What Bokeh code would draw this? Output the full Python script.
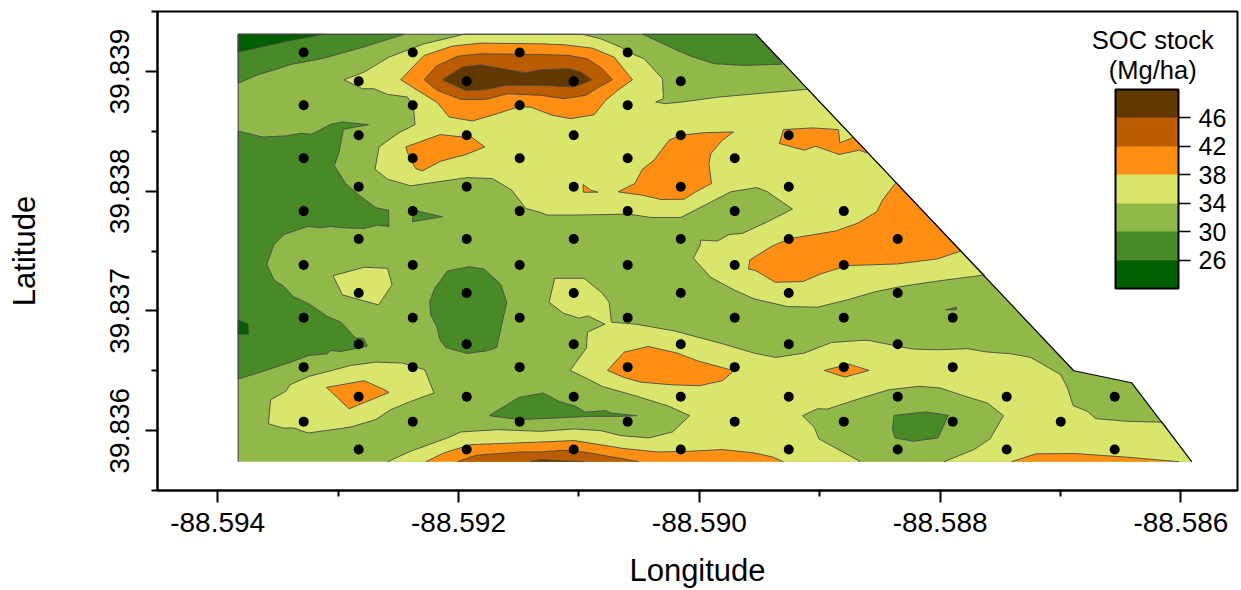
from bokeh.embed import file_html
from bokeh.resources import INLINE
from bokeh.plotting import figure
from bokeh.models import (ColorBar, LinearColorMapper, FixedTicker, Label, Range1d,
                          NumeralTickFormatter)

# ---- data: offsets in 1e-5 degree from the origin below (v grows southwards) ----
LON0 = -88.594
LAT0 = 39.839

level_colors = ["#005f00", "#488a25", "#90b94a", "#d9e66b", "#ff8f12", "#bc5c00", "#603800"]
legend_ticks = [26, 30, 34, 38, 42, 46]
x_ticks = [-88.594, -88.592, -88.590, -88.588, -88.586]
y_ticks = [39.836, 39.837, 39.838, 39.839]

domain = [(17,-31),(447,-31),(711,250),(759,260),(809,326),(17,326)]

# class 34-38
yellow_1 = [(105,7),(121.6,.6),(142.3,-11.9),(171.4,-23),(204.6,-31),(302.9,-31),(318.1,-27.2),(334.8,-20.2),(340.8,-16.1),(354.1,-10.5),(369.4,6.1),(370.2,22.8),(363.8,25.6),(372.1,27),(390.1,25),(416.4,21.4),(448.3,18.6),(489.8,15),(636.6,170),(595,175.5),(567.3,179.7),(546.6,183.9),(523,190.8),(498.1,196.9),(473.2,196.4),(445.5,190),(428.9,182.5),(409.5,172),(395.1,156.1),(400.7,145),(401.2,140.9),(415,141.7),(424.8,136.2),(435.8,135.3),(456.6,125.6),(477.4,115),(456.6,100.6),(447.7,97),(426.1,100.6),(384.6,122),(359.7,122),(341.7,119.2),(296,120),(273.8,120),(268.3,117.8),(255.9,114.5),(244.2,99.2),(228.2,89.5),(207.4,88.7),(182.5,92.3),(160.3,95.6),(141,90),(130.7,81.7),(134,63.1),(150.6,51.2),(163.9,44.5),(162.5,28.4),(157.6,21.4),(141,19.2),(129.9,14.5),(120.2,14.5)]
yellow_2 = [(279.9,172.8),(304.3,172.8),(319.5,185.3),(325.1,192.8),(327,209.4),(347.2,211.1),(379,216.7),(417.8,227),(445.5,235.3),(463.5,238.9),(487,235.3),(509.8,226.4),(534.1,224.7),(541,224.7),(577,231.9),(597.8,232.5),(622.7,231.6),(639.3,234.4),(658.7,235.8),(675.3,238.9),(700.2,253.3),(705.8,264.4),(710.5,279.1),(722.4,283.9),(729.3,290),(755.6,292.2),(784.7,293),(809,326),(140.9,326),(160.3,317.2),(190.8,306.1),(201.9,301.1),(232.3,299.2),(268.3,300.6),(296,298.6),(318.1,300),(334.8,304.2),(358.3,306.1),(377.7,301.1),(392.1,287.5),(374.9,279.7),(348.6,271.4),(319.5,263.1),(307.1,256.7),(292.7,249.7),(306.2,231.1),(307.1,217.8),(321.5,211.1),(307.6,204.2),(300.1,206.1),(287.1,201.9),(275.2,192.8)]
yellow_3 = [(95.8,170.6),(121.6,163.6),(141,164.4),(144.8,178.3),(133.5,195),(103.6,186.7)]
yellow_4 = [(60.1,261.7),(75.9,254.7),(110.5,245.6),(131.3,242.8),(153.4,243.6),(172,249.2),(179.7,268.6),(160.3,275.6),(143.7,282.5),(131.3,290.8),(110.5,297),(75,302),(63.4,297.8),(53.7,297.8),(42.1,294.2),(44,274.2),(56.5,267.2)]

# class 30-34 hole inside the lower yellow area
green_hole = [(485.7,287.5),(498.1,281.7),(506.4,282),(528.6,274.7),(557.6,265.8),(582.6,263),(600,264.4),(622.7,271.9),(639.3,276.9),(652.6,287.5),(641.5,306.9),(628.2,315.8),(603.3,326),(534.1,326),(499.5,307),(495.4,297.2)]

# class 26-30
dark_1 = [(17,-31),(155,-31),(120,-20),(88,-11),(62,-6),(33,3),(17,10)]
dark_2 = [(17,49.8),(37.1,54.8),(56.5,53.9),(69,51.7),(78.1,52.5),(93.9,44.2),(103.6,42.3),(125.2,44.5),(104.4,48.4),(100.8,67.3),(96.9,78.7),(106.3,93.7),(117.4,103.4),(131.3,113.9),(141.8,115.9),(142.3,129.5),(132.6,128.4),(121.6,131.2),(103.6,130.6),(93.9,129.5),(85.6,130.6),(74.5,129.5),(55.1,136.2),(46.8,144.5),(40.7,161.1),(46.8,174.2),(55.1,179.7),(62.9,188.1),(75.9,194.2),(91.1,204.7),(102.2,209.4),(114.6,222.8),(121,222.8),(124.3,229.5),(102.2,233.9),(93.9,233.1),(91.1,235.8),(75.9,237.2),(60.6,242.8),(39.9,249.7),(17,257)]
dark_3 = [(190.8,166.7),(208.8,163.1),(221.2,165),(235.1,177.8),(240.1,192.8),(235.9,211.7),(231.8,230.6),(224,233.3),(207.4,235.6),(189.4,230.6),(184.7,224.2),(181.9,213.1),(176.9,203.3),(176.1,192.2),(180.3,181.1)]
dark_4 = [(162.5,115.9),(186.6,121.4),(161.7,125.6)]
dark_5 = [(353,-31),(447,-31),(469,-6),(437.2,-5),(412.3,-6.4),(392.9,-12.7),(377.7,-19.4)]
dark_6 = [(225.4,287.5),(250.3,272.2),(270.5,268.6),(283.5,275.6),(297.4,279.7),(304.9,284.5),(322.3,283.3),(326.4,285.3),(348,287.5),(334.8,288.1),(309.8,288.1),(268.3,290),(250.3,290.8)]
dark_7 = [(561.8,287.2),(588.1,284.4),(606.9,287.2),(598.3,306.1),(577.6,308.9),(562.6,306.1),(560.4,299.1)]
dark_8 = [(604.7,199.1),(613.6,196.9),(613.6,199.1)]

# class 22-26
deep_1 = [(17,-31),(88,-31),(58,-25.2),(17,-16.1)]
deep_2 = [(17,207.8),(25.2,210.6),(25.5,219.5),(17,219.5)]

# class 38-42
orange_1 = [(152,7),(171.4,-13.3),(194.9,-21.1),(218.5,-23.6),(268.3,-23),(287.7,-22.2),(311.2,-19.4),(329.2,-11.9),(344.5,7),(332,15.9),(322.3,24.2),(312.6,36.2),(293.2,39.5),(278,36.7),(260,29.8),(248.9,29.8),(232.3,35.3),(211.6,41.4),(192.2,38.1),(182.5,26.1)]
orange_2 = [(156.2,63.1),(184.7,52.8),(203.2,54.8),(210.7,54.8),(221.8,63.1),(206,69.5),(185.3,75),(170,83.1),(164.5,81.2),(158.9,71.4)]
orange_3 = [(303.5,94.5),(309.8,99.2),(315.9,100.9),(303.7,100.9)]
orange_4 = [(332.5,100.6),(346.4,93.7),(352.8,81.7),(362.4,74.2),(374.9,57.5),(384.6,53.4),(404,51.2),(428.4,50.6),(419.2,57.5),(409.5,68.7),(408.1,77),(410.1,93.7),(397,100.6),(387.4,106.7),(368,107),(352.8,103.4)]
orange_5 = [(469.9,48.6),(494,47.2),(515.6,48.6),(516.7,59.7),(528,55.2),(540.5,68.5),(532.7,65.8),(516.1,69.4),(496.7,62.5),(487,65.8),(466.5,60.2)]
orange_6 = [(441.9,157.5),(460.7,145.8),(474.9,139.7),(513.3,133.3),(531.3,126.9),(547.4,117.2),(552.1,107.5),(563.2,93),(617.2,150),(597.8,156.6),(564.6,160.8),(523,162.2),(500.9,169.1),(486.2,175.5),(463,176.1),(446.9,166.4),(440.8,165)]
orange_7 = [(323.7,249.7),(337.5,234.5),(357.5,229.7),(381.8,235.3),(398.4,241.7),(428.9,250),(419.2,258.3),(399.8,262.5),(376.3,261.7),(351.4,259.5),(337.5,255.6)]
orange_8 = [(503.7,249.7),(524.4,244.5),(541,249.7),(520.8,255.3)]
orange_9 = [(90.3,263.9),(121.6,258.3),(136.8,265),(142.3,268.1),(109.1,281.7),(93.9,267.2)]
orange_10 = [(172.8,326),(188,318.6),(210.2,311.7),(268.3,309.5),(296,308.3),(337.5,315),(365.2,317.8),(392.9,317.2),(419.2,315.8),(445.5,318.6),(460.7,322),(469.9,326)]
orange_11 = [(659.3,326),(679.5,319.4),(711.3,319.1),(755.6,322.2),(798.5,326)]

# class 42-46
brown_1 = [(171.4,7),(181.6,-4.4),(199.1,-12.7),(218.5,-14.7),(268.3,-14.1),(291.9,-13.3),(307.1,-10.5),(319.5,-2.2),(327.9,7),(315.4,13.9),(305.7,20),(287.7,22.8),(268.3,20),(240.6,18.7),(222.6,23.4),(201.9,23.4),(182.5,15.9)]
brown_2 = [(199.1,326),(214.3,320.6),(251.7,317.8),(268.3,317.8),(286.3,316.4),(304.3,317.8),(350,326)]

# class 46-50
umber_1 = [(186.6,7),(203.2,-3.6),(218.5,-5.5),(240.6,-1.4),(255.9,1.1),(268.3,-1.3),(291.9,-2.2),(301.5,.6),(310.7,7),(296,13.1),(268.3,11.7),(239.2,11.7),(221.2,15.3),(206,15.9)]
umber_2 = [(259.5,326),(268.3,324.2),(304.3,326)]

# sampling points: one latitude offset per row, with the longitude offsets in that row
row_lat = [-15.8, 8.3, 28.3, 53.3, 72.5, 96.4, 116.7, 140, 161.7, 185, 205.8, 227.9, 247, 271.7, 292.5, 315.8]
row_lon = [
    [71.4, 162, 250.8, 340.5],
    [117.1, 206.8, 295.7, 384.6],
    [71.4, 162, 250.8, 340.5],
    [117.1, 206.8, 295.7, 384.6, 474.3],
    [71.4, 162, 250.8, 340.5, 429.4],
    [117.1, 206.8, 295.7, 384.6, 474.3],
    [71.4, 162, 250.8, 340.5, 429.4, 520],
    [117.1, 206.8, 295.7, 384.6, 474.3, 564.8],
    [71.4, 162, 250.8, 340.5, 429.4, 520],
    [117.1, 206.8, 295.7, 384.6, 474.3, 564.8],
    [71.4, 162, 250.8, 340.5, 429.4, 520, 610.5],
    [117.1, 206.8, 295.7, 384.6, 474.3, 564.8],
    [71.4, 162, 250.8, 340.5, 429.4, 520, 610.5],
    [117.1, 206.8, 295.7, 384.6, 474.3, 564.8, 655.3, 745],
    [71.4, 162, 250.8, 340.5, 429.4, 520, 610.5, 700.2],
    [117.1, 206.8, 295.7, 384.6, 474.3, 564.8, 655.3, 745],
]

# painting order: lower layers first, each with its class index in level_colors
layers = [
    (2, [domain]),
    (3, [yellow_1, yellow_2, yellow_3, yellow_4]),
    (2, [green_hole]),
    (1, [dark_1, dark_2, dark_3, dark_4, dark_5, dark_6, dark_7, dark_8]),
    (0, [deep_1, deep_2]),
    (4, [orange_1, orange_2, orange_3, orange_4, orange_5, orange_6, orange_7,
         orange_8, orange_9, orange_10, orange_11]),
    (5, [brown_1, brown_2]),
    (6, [umber_1, umber_2]),
]


def lon(u):
    return LON0 + u * 1e-5


def lat(v):
    return LAT0 - v * 1e-5


FONT = "Liberation Sans"
p = figure(width=1241, height=590, output_backend="svg", toolbar_location=None,
           x_range=Range1d(-88.5945, -88.58553), y_range=Range1d(39.8355, 39.8395),
           min_border_left=157, min_border_right=4, min_border_top=11, min_border_bottom=99)
p.xgrid.visible = False
p.ygrid.visible = False
p.outline_line_color = "black"
p.outline_line_width = 2
p.background_fill_color = "white"

for idx, polys in layers:
    xs = [[lon(a) for a, b in poly] for poly in polys]
    ys = [[lat(b) for a, b in poly] for poly in polys]
    p.patches(xs, ys, fill_color=level_colors[idx], line_color=None)
    if polys[0] is domain:
        continue
    lx, ly = [], []
    for poly in polys:
        n = len(poly)
        ring = poly + [poly[0]]
        cur = [ring[0]]
        for i in range(1, n + 1):
            if ring[i - 1][1] >= 326 and ring[i][1] >= 326:
                if len(cur) > 1:
                    lx.append([lon(a) for a, b in cur])
                    ly.append([lat(b) for a, b in cur])
                cur = [ring[i]]
            else:
                cur.append(ring[i])
        if len(cur) > 1:
            lx.append([lon(a) for a, b in cur])
            ly.append([lat(b) for a, b in cur])
    p.multi_line(lx, ly, line_color="#4a4a4a", line_width=0.9)

# edge of the mapped area
edge_left = [domain[5], domain[0], domain[1]]
edge_right = domain[1:5]
p.line([lon(a) for a, b in edge_left], [lat(b) for a, b in edge_left],
       line_color="#444444", line_width=1.1)
p.line([lon(a) for a, b in edge_right], [lat(b) for a, b in edge_right],
       line_color="black", line_width=1.2)

px, py = [], []
for v, us in zip(row_lat, row_lon):
    for u in us:
        px.append(lon(u))
        py.append(lat(v))
p.scatter(px, py, size=10, color="black", line_color=None)

# axes
p.xaxis.ticker = FixedTicker(ticks=x_ticks, minor_ticks=[-88.593, -88.591, -88.589, -88.587])
p.yaxis.ticker = FixedTicker(ticks=y_ticks,
                             minor_ticks=[39.8355, 39.8365, 39.8375, 39.8385, 39.8395])
p.xaxis.formatter = NumeralTickFormatter(format="0.000")
p.yaxis.formatter = NumeralTickFormatter(format="0.000")
p.yaxis.major_label_orientation = "vertical"
p.xaxis.axis_label = "Longitude"
p.yaxis.axis_label = "Latitude"
for ax in (p.xaxis[0], p.yaxis[0]):
    ax.axis_line_color = "black"
    ax.axis_line_width = 2
    ax.major_tick_line_color = "black"
    ax.major_tick_line_width = 2
    ax.minor_tick_line_color = "black"
    ax.minor_tick_line_width = 2
    ax.major_tick_in = 0
    ax.major_tick_out = 12
    ax.minor_tick_in = 0
    ax.minor_tick_out = 6
    ax.major_label_text_font = FONT
    ax.major_label_text_font_size = "28px"
    ax.major_label_text_color = "black"
    ax.axis_label_text_font = FONT
    ax.axis_label_text_font_size = "31px"
    ax.axis_label_text_font_style = "normal"
    ax.axis_label_text_color = "black"
p.xaxis.major_label_standoff = 10
p.yaxis.major_label_standoff = 17
p.xaxis.axis_label_standoff = 18
p.yaxis.axis_label_standoff = 65

# legend
mapper = LinearColorMapper(palette=level_colors, low=22, high=50)
cb = ColorBar(color_mapper=mapper, ticker=FixedTicker(ticks=legend_ticks),
              location=(958, 202), width=63, height=199, padding=0, margin=0,
              background_fill_color=None, background_fill_alpha=0, border_line_color=None,
              bar_line_color="black", bar_line_width=2,
              major_tick_line_color="black", major_tick_line_width=1.5,
              major_tick_in=0, major_tick_out=12, minor_tick_line_color=None,
              label_standoff=8, major_label_text_font=FONT,
              major_label_text_font_size="25px", major_label_text_color="black")
p.add_layout(cb, "center")
for text, v in (("SOC stock", -25.8), ("(Mg/ha)", -0.8)):
    p.add_layout(Label(x=lon(776.6), y=lat(v), text=text, text_align="center",
                       text_baseline="alphabetic", text_font=FONT,
                       text_font_size="25.5px", text_color="black"))

open("out.html", "w").write(file_html(p, INLINE))
